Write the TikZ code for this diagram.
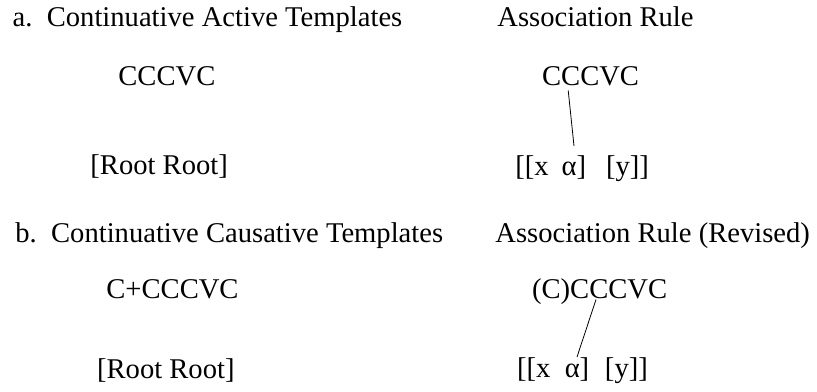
\documentclass[tikz,border=0pt]{standalone}
\usepackage{fontspec}
\setmainfont{Liberation Serif}
\usetikzlibrary{calc}
% columns and rows (in pixels of the figure)
\newcommand{\rulecolx}{497}
\newcommand{\rowtitlea}{26.5}
\newcommand{\rowtitleb}{242}
\newcommand{\gapxa}{0.45em}
\newcommand{\gapya}{0.7em}
\newcommand{\gapxb}{0.5em}
\newcommand{\gapyb}{0.55em}

\begin{document}
\begin{tikzpicture}[x=0.5pt,y=-0.5pt,
    lbl/.style={anchor=base west,inner sep=0pt,
      font=\fontsize{14.3}{17}\selectfont},
    assoc/.style={line width=0.4pt}]
    \useasboundingbox (0,0) rectangle (817,391);
    % a. active templates
    \node[lbl] (titleA) at (12.3,\rowtitlea) {a.\ \ Continuative Active Templates};
    \node[lbl] (ruleA) at (\rulecolx,\rowtitlea) {Association Rule};
    \node[lbl] (tmplA) at (118,85) {CCCVC};
    \node[lbl] (assocA) at (541.7,85) {CCCVC};
    \node[lbl] (rootA) at (90,174) {[Root Root]};
    \node[lbl] (brackA) at (515,175) {[[x\hspace{\gapxa}α]\hspace{\gapya}[y]]};
    \coordinate (linkAtop) at ($(assocA.base west)+(26.5,5.5)$);
    \coordinate (linkAbot) at ($(brackA.base west)+(59,-29)$);
    \draw[assoc] (linkAtop) -- (linkAbot);
    % b. causative templates
    \node[lbl] (titleB) at (15,\rowtitleb) {b.\ \ Continuative Causative Templates};
    \node[lbl] (ruleB) at (495,\rowtitleb) {Association Rule (Revised)};
    \node[lbl] (tmplB) at (106,298) {C+CCCVC};
    \node[lbl] (assocB) at (531.7,298) {(C)CCCVC};
    \node[lbl] (rootB) at (96.7,378) {[Root Root]};
    \node[lbl] (brackB) at (516.7,377) {[[x\hspace{\gapxb}α]\hspace{\gapyb}[y]]};
    \coordinate (linkBtop) at ($(assocB.base west)+(64.3,1.5)$);
    \coordinate (linkBbot) at ($(brackB.base west)+(60.3,-20)$);
    \draw[assoc] (linkBtop) -- (linkBbot);
\end{tikzpicture}
\end{document}
